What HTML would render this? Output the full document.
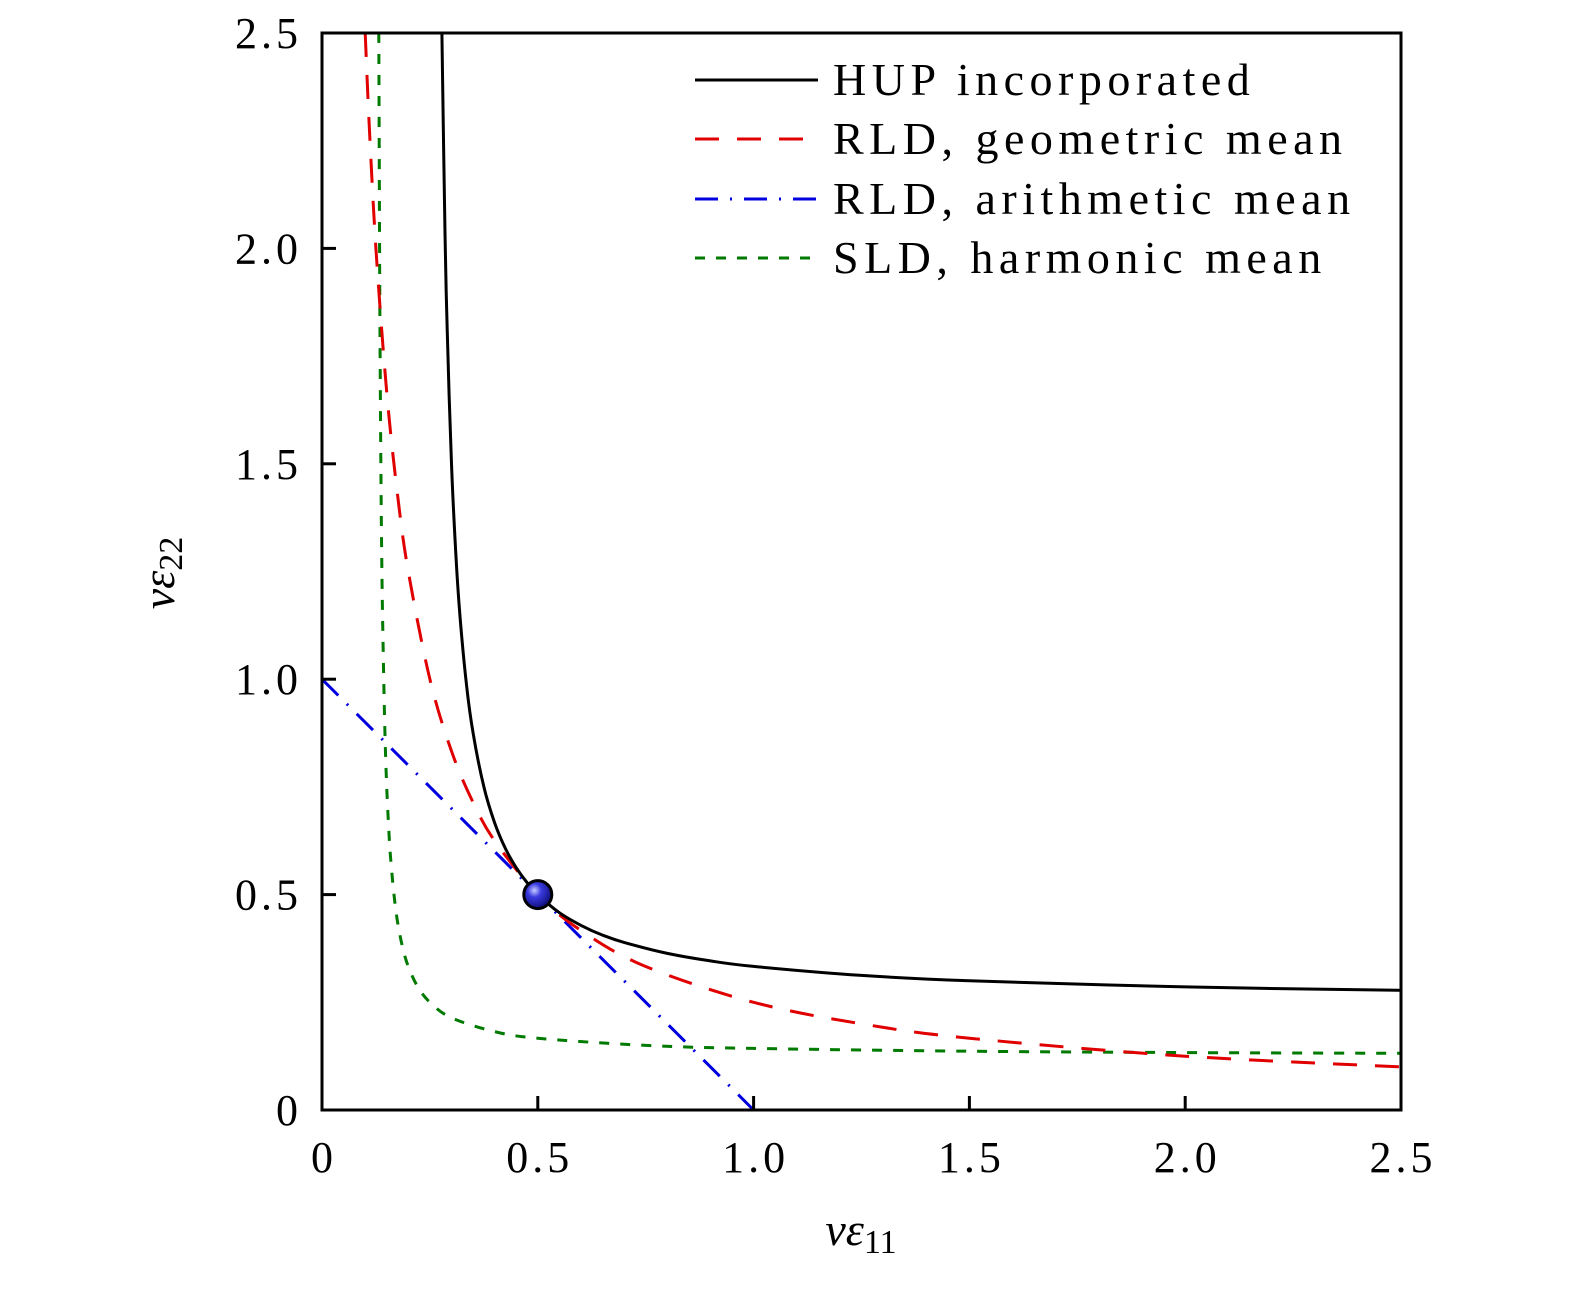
<!DOCTYPE html>
<html><head><meta charset="utf-8"><style>
body{margin:0;background:#fff}
svg text{font-family:"Liberation Serif",serif;fill:#000}
</style></head><body>
<svg id="chart" width="1575" height="1285" viewBox="0 0 1575 1285" xmlns="http://www.w3.org/2000/svg">
<defs><radialGradient id="ball" cx="0.38" cy="0.35" r="0.7">
<stop offset="0" stop-color="#c8ccff"/><stop offset="0.35" stop-color="#3a3ae0"/><stop offset="1" stop-color="#0a0a70"/></radialGradient></defs>
<g id="plot"></g>
<g id="axes"></g>
<g id="legend"></g>
</svg>
<script>
const xTicks=[0,0.5,1.0,1.5,2.0,2.5];
const xTickLabels=["0","0.5","1.0","1.5","2.0","2.5"];
const yTicks=[0,0.5,1.0,1.5,2.0,2.5];
const yTickLabels=["0","0.5","1.0","1.5","2.0","2.5"];
const hupX=[0.2778,0.285,0.29,0.3,0.31,0.32,0.335,0.35,0.375,0.4,0.425,0.45,0.475,0.5,0.55,0.6,0.65,0.7,0.8,0.9,1.0,1.25,1.5,2.0,2.5];
const hupY=[2.5,2.036,1.8125,1.5,1.292,1.143,0.985,0.875,0.75,0.667,0.607,0.5625,0.528,0.5,0.458,0.4286,0.406,0.389,0.3636,0.346,0.3333,0.3125,0.3,0.2857,0.2778];
const geoX=[0.1,0.11,0.125,0.15,0.175,0.2,0.25,0.3,0.35,0.4,0.5,0.6,0.75,1.0,1.25,1.5,2.0,2.5];
const geoY=[2.5,2.273,2.0,1.667,1.429,1.25,1.0,0.833,0.714,0.625,0.5,0.4167,0.333,0.25,0.2,0.1667,0.125,0.1];
const ariX=[0,1.0];
const ariY=[1.0,0];
const harX=[0.1316,0.133,0.135,0.1375,0.14,0.145,0.15,0.155,0.16,0.17,0.18,0.19,0.2,0.22,0.25,0.3,0.4,0.5,0.75,1.0,1.5,2.0,2.5];
const harY=[2.5,2.11,1.6875,1.375,1.167,0.906,0.75,0.646,0.571,0.472,0.409,0.365,0.333,0.289,0.25,0.214,0.182,0.1667,0.15,0.1429,0.1364,0.1333,0.1316];
const pointX=[0.5], pointY=[0.5];
const legendLabels=["HUP incorporated","RLD, geometric mean","RLD, arithmetic mean","SLD, harmonic mean"];

const X0=322,X1=1401,Y0=1110,Y1=33;
const sx=v=>X0+(X1-X0)*v/2.5;
const sy=v=>Y0-(Y0-Y1)*v/2.5;
const NS="http://www.w3.org/2000/svg";
function mk(tag,attrs,parent){const e=document.createElementNS(NS,tag);for(const k in attrs)e.setAttribute(k,attrs[k]);parent.appendChild(e);return e;}
function smooth(xs,ys){
 const P=xs.map((x,j)=>[sx(x),sy(ys[j])]);
 if(P.length<3)return 'M'+P.map(p=>p[0].toFixed(1)+' '+p[1].toFixed(1)).join(' L');
 let d='M'+P[0][0].toFixed(1)+' '+P[0][1].toFixed(1);
 for(let i=0;i<P.length-1;i++){
  const p0=P[i-1]||P[i],p1=P[i],p2=P[i+1],p3=P[i+2]||P[i+1];
  const c1=[p1[0]+(p2[0]-p0[0])/6,p1[1]+(p2[1]-p0[1])/6];
  const c2=[p2[0]-(p3[0]-p1[0])/6,p2[1]-(p3[1]-p1[1])/6];
  d+=' C'+c1.map(v=>v.toFixed(1)).join(' ')+' '+c2.map(v=>v.toFixed(1)).join(' ')+' '+p2[0].toFixed(1)+' '+p2[1].toFixed(1);
 }
 return d;
}
const plot=document.getElementById('plot'),axes=document.getElementById('axes'),legend=document.getElementById('legend');
const clip=mk('clipPath',{id:'clp'},document.querySelector('defs'));
mk('rect',{x:X0,y:Y1,width:X1-X0,height:Y0-Y1},clip);
plot.setAttribute('clip-path','url(#clp)');
const styles=[
 {stroke:'#000',dash:''},
 {stroke:'#e00000',dash:'24 18'},
 {stroke:'#0000e0',dash:'23 12 2 12'},
 {stroke:'#007a00',dash:'10 11'}];
const series=[[hupX,hupY],[geoX,geoY],[ariX,ariY],[harX,harY]];
const names=['hup-curve','geometric-mean-curve','arithmetic-mean-line','harmonic-mean-curve'];
[3,2,1,0].forEach(i=>{
 const [xs,ys]=series[i];
 const p=mk('path',{d:smooth(xs,ys),fill:'none',stroke:styles[i].stroke,'stroke-width':3,'stroke-dasharray':styles[i].dash,'stroke-linejoin':'round'},plot);
 
 
});
pointX.forEach((x,i)=>{
 const c=mk('circle',{cx:sx(x),cy:sy(pointY[i]),r:14,fill:'url(#ball)',stroke:'#000','stroke-width':3},axes);
 
 
});
const frame=mk('rect',{x:X0,y:Y1,width:X1-X0,height:Y0-Y1,fill:'none',stroke:'#000','stroke-width':3},axes);


xTicks.forEach((v,i)=>{
 const t=mk('line',{x1:sx(v),x2:sx(v),y1:Y0,y2:Y0-14,stroke:'#000','stroke-width':3},axes);
 
 
 const l=mk('text',{x:sx(v)+2,y:1172,'text-anchor':'middle','font-size':44,'letter-spacing':'4'},axes);
 l.textContent=xTickLabels[i];
 
 
});
yTicks.forEach((v,i)=>{
 const t=mk('line',{x1:X0,x2:X0+14,y1:sy(v),y2:sy(v),stroke:'#000','stroke-width':3},axes);
 
 
 const l=mk('text',{x:302,y:sy(v)+15,'text-anchor':'end','font-size':44,'letter-spacing':'4'},axes);
 l.textContent=yTickLabels[i];
 
 
});
const xt=mk('text',{x:861,y:1245,'text-anchor':'middle','font-size':46,'font-style':'italic'},axes);
xt.innerHTML='νε<tspan font-style="normal" font-size="34" dy="8">11</tspan>';


const yt=mk('text',{x:0,y:0,'text-anchor':'middle','font-size':46,'font-style':'italic',transform:'translate(174,573) rotate(-90)'},axes);
yt.innerHTML='νε<tspan font-style="normal" font-size="34" dy="8">22</tspan>';


const ly=[80,139,199,258];
legendLabels.forEach((s,i)=>{
 const g=mk('g',{},legend);
 
 
 mk('line',{x1:695,x2:818,y1:ly[i],y2:ly[i],stroke:styles[i].stroke,'stroke-width':3,'stroke-dasharray':styles[i].dash},g);
 const t=mk('text',{x:833,y:ly[i]+15,'font-size':46,'letter-spacing':'5.5'},g);
 t.textContent=s;
});
</script>
</body></html>
